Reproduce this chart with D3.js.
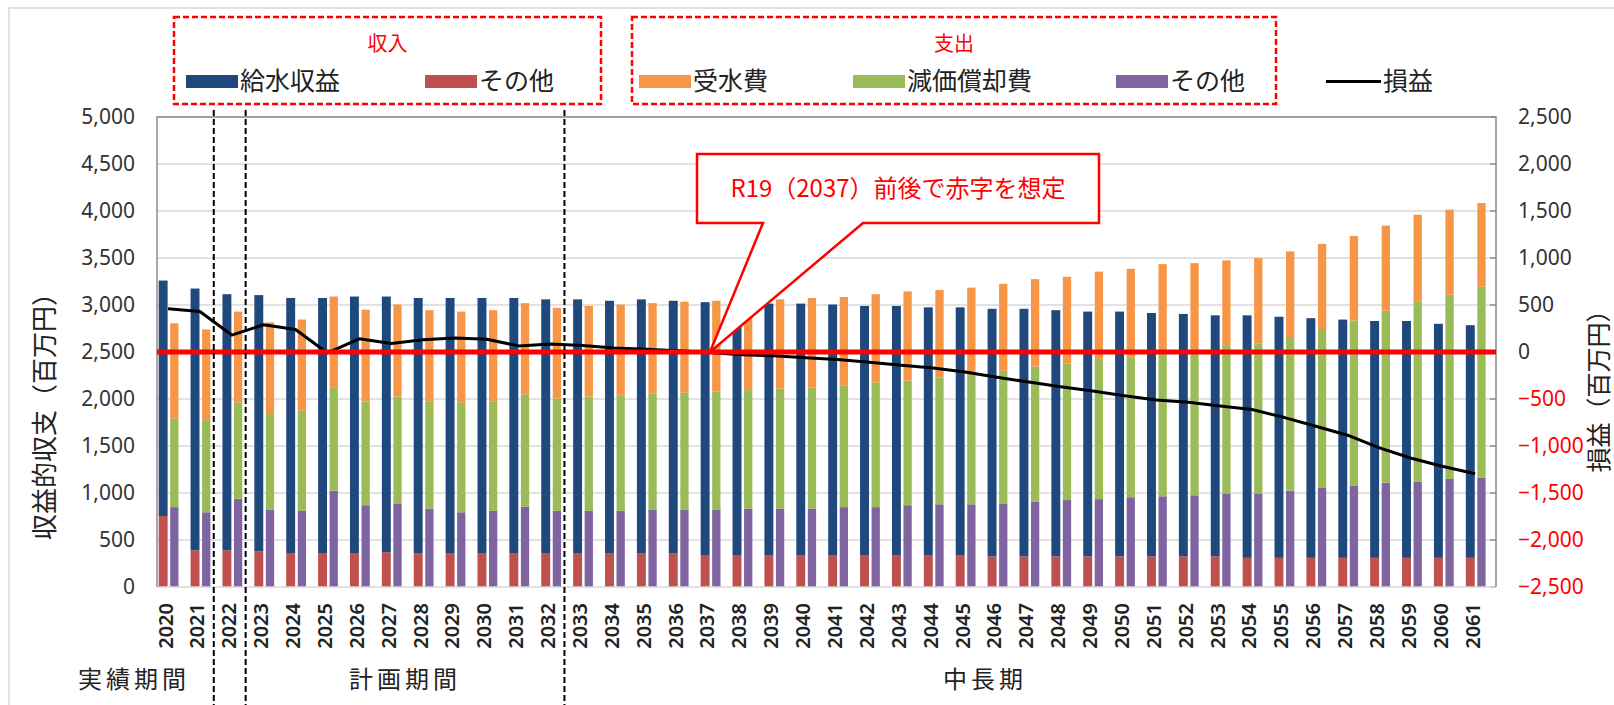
<!DOCTYPE html>
<html>
<head>
<meta charset="utf-8">
<script src="https://cdn.jsdelivr.net/npm/d3@7"></script>
<style>
  body { margin: 0; background: #fff; }
  svg { display: block; }
</style>
</head>
<body>
<svg id="chart"></svg>
<script>
const years = d3.range(2020, 2062).map(String);

// 収入
const kyusuiShueki = [2505, 2785, 2725, 2725, 2720, 2720, 2735, 2720, 2720, 2720, 2720, 2720, 2705, 2705,
  2690, 2705, 2690, 2690, 2675, 2675, 2675, 2665, 2650, 2650, 2635, 2635, 2635, 2635, 2620, 2605,
  2605, 2590, 2580, 2565, 2580, 2565, 2550, 2535, 2520, 2520, 2490, 2475];
const incomeOther = [755, 390, 390, 380, 355, 355, 355, 370, 355, 355, 355, 355, 355, 355,
  355, 355, 355, 340, 340, 340, 340, 340, 340, 340, 340, 340, 325, 325, 325, 325,
  325, 325, 325, 325, 310, 310, 310, 310, 310, 310, 310, 310];

// 支出
const jusuihi = [1010, 965, 965, 965, 970, 965, 975, 980, 975, 965, 975, 970, 965, 965,
  965, 965, 965, 965, 965, 950, 950, 945, 940, 950, 930, 930, 925, 930, 920, 940,
  940, 945, 935, 910, 910, 910, 905, 900, 905, 920, 905, 890];
const genkaShokyaku = [945, 980, 1025, 1030, 1065, 1100, 1105, 1135, 1135, 1170, 1160, 1195, 1195, 1215,
  1230, 1230, 1245, 1255, 1260, 1275, 1290, 1290, 1325, 1325, 1350, 1375, 1410, 1435, 1455, 1480,
  1490, 1525, 1535, 1570, 1595, 1635, 1685, 1755, 1830, 1920, 1960, 2030];
const expenseOther = [850, 795, 940, 820, 810, 1025, 870, 890, 835, 795, 810, 855, 810, 810,
  810, 825, 825, 825, 835, 835, 835, 850, 850, 870, 880, 880, 890, 910, 925, 935,
  955, 965, 975, 995, 995, 1025, 1060, 1080, 1110, 1120, 1150, 1165];

// 損益
const soneki = [460, 430, 180, 290, 240, -10, 140, 90, 130, 150, 135, 65, 85, 70,
  42, 30, 12, -5, -30, -40, -60, -80, -110, -140, -170, -212, -268, -320, -370, -415,
  -465, -510, -535, -575, -612, -695, -790, -885, -1020, -1130, -1218, -1295];

const leftTicks = d3.range(0, 5001, 500);
const rightTicks = d3.range(-2500, 2501, 500);

const W = 1614;
const H = 705;
const plot = { left: 157, right: 1496, top: 117, bottom: 587 };

const colors = {
  kyusui: "#1f497d",
  incOther: "#c0504d",
  jusui: "#f79646",
  genka: "#9bbb59",
  expOther: "#8064a2",
};

const jp = "'Noto Sans CJK JP', 'Noto Sans', sans-serif";
const num = "'Noto Sans', 'Open Sans', sans-serif";

const svg = d3.select("#chart").attr("width", W).attr("height", H);

// outer frame
svg.append("rect")
  .attr("x", 9).attr("y", 8)
  .attr("width", W).attr("height", H)
  .attr("fill", "#fff")
  .attr("stroke", "#d9d9d9")
  .attr("stroke-width", 1.5);

const x = d3.scaleBand().domain(years).range([plot.left, plot.right]).padding(0);
const y = d3.scaleLinear().domain([0, 5000]).range([plot.bottom, plot.top]);
const y2 = d3.scaleLinear().domain([-2500, 2500]).range([plot.bottom, plot.top]);
const bw = x.bandwidth();

// grid
svg.append("g")
  .selectAll("line")
  .data(leftTicks.slice(1))
  .enter()
  .append("line")
  .attr("x1", plot.left).attr("x2", plot.right)
  .attr("y1", (d) => y(d)).attr("y2", (d) => y(d))
  .attr("stroke", "#d9d9d9")
  .attr("stroke-width", 1.5);

// left axis
const yAxis = d3.axisLeft(y).tickValues(leftTicks).tickSize(0).tickPadding(22).tickFormat(d3.format(","));
const gy = svg.append("g").attr("transform", "translate(" + plot.left + ",0)").call(yAxis);
gy.select(".domain").remove();
gy.selectAll("text")
  .style("font-family", num)
  .style("font-size", "21px")
  .attr("fill", "#333");

// right axis
const yAxis2 = d3.axisRight(y2).tickValues(rightTicks).tickSize(0).tickPadding(22).tickFormat(d3.format(","));
const gy2 = svg.append("g").attr("transform", "translate(" + plot.right + ",0)").call(yAxis2);
gy2.select(".domain").remove();
gy2.selectAll("text")
  .style("font-family", num)
  .style("font-size", "21px")
  .attr("fill", (d) => (d < 0 ? "#ff0000" : "#333"));

// inner ticks on right border
svg.append("g")
  .selectAll("line")
  .data(rightTicks)
  .enter()
  .append("line")
  .attr("x1", plot.right - 6).attr("x2", plot.right)
  .attr("y1", (d) => y2(d)).attr("y2", (d) => y2(d))
  .attr("stroke", "#8c8c8c")
  .attr("stroke-width", 1.5);

// stacked bars
const incomeStack = d3.stack().keys(["incOther", "kyusui"])(
  years.map((yr, i) => ({ year: yr, incOther: incomeOther[i], kyusui: kyusuiShueki[i] }))
);
const expenseStack = d3.stack().keys(["expOther", "genka", "jusui"])(
  years.map((yr, i) => ({ year: yr, expOther: expenseOther[i], genka: genkaShokyaku[i], jusui: jusuihi[i] }))
);

const drawStack = (stack, offset, width) => {
  svg.append("g")
    .selectAll("g")
    .data(stack)
    .enter()
    .append("g")
    .attr("fill", (s) => colors[s.key])
    .selectAll("rect")
    .data((s) => s)
    .enter()
    .append("rect")
    .attr("x", (d) => x(d.data.year) + bw * offset)
    .attr("width", bw * width)
    .attr("y", (d) => y(d[1]))
    .attr("height", (d) => y(d[0]) - y(d[1]));
};
drawStack(incomeStack, 0.053, 0.28);
drawStack(expenseStack, 0.414, 0.26);

// plot border
svg.append("line")
  .attr("x1", plot.left).attr("x2", plot.right)
  .attr("y1", plot.bottom).attr("y2", plot.bottom)
  .attr("stroke", "#d9d9d9").attr("stroke-width", 1.5);
svg.append("path")
  .attr("d", "M" + plot.left + "," + plot.bottom + "V" + plot.top + "H" + plot.right + "V" + plot.bottom)
  .attr("fill", "none")
  .attr("stroke", "#8c8c8c")
  .attr("stroke-width", 1.5);

// 損益 line
const line = d3.line()
  .x((d, i) => x(years[i]) + 11)
  .y((d) => y2(d));
svg.append("path")
  .datum(soneki)
  .attr("d", line)
  .attr("fill", "none")
  .attr("stroke", "#000")
  .attr("stroke-width", 3)
  .attr("stroke-linejoin", "round");

// zero line
svg.append("line")
  .attr("x1", plot.left).attr("x2", plot.right)
  .attr("y1", y2(0)).attr("y2", y2(0))
  .attr("stroke", "#ff0000")
  .attr("stroke-width", 5);

// period dividers
const dividers = ["2022", "2023", "2033"];
svg.append("g")
  .selectAll("line")
  .data(dividers)
  .enter()
  .append("line")
  .attr("x1", (d) => x(d) - 7).attr("x2", (d) => x(d) - 7)
  .attr("y1", 110).attr("y2", H)
  .attr("stroke", "#000")
  .attr("stroke-width", 2)
  .attr("stroke-dasharray", "6,3");

// x labels
svg.append("g")
  .selectAll("text")
  .data(years)
  .enter()
  .append("text")
  .attr("transform", (d) => "translate(" + (x(d) + 8) + "," + 603 + ") rotate(-90)")
  .attr("text-anchor", "end")
  .attr("dominant-baseline", "central")
  .style("font-family", num)
  .style("font-size", "20px")
  .style("font-weight", 600)
  .attr("fill", "#222")
  .text((d) => d);

// period labels
const periods = [
  { label: "実績期間", x: 134 },
  { label: "計画期間", x: 405 },
  { label: "中長期", x: 985 },
];
svg.append("g")
  .selectAll("text")
  .data(periods)
  .enter()
  .append("text")
  .attr("x", (d) => d.x)
  .attr("y", 688)
  .attr("text-anchor", "middle")
  .style("font-family", jp)
  .style("font-size", "24px")
  .style("letter-spacing", "4px")
  .attr("fill", "#222")
  .text((d) => d.label);

// axis titles
svg.append("text")
  .attr("transform", "translate(42,410) rotate(-90)")
  .attr("text-anchor", "middle")
  .attr("dominant-baseline", "central")
  .style("font-family", jp)
  .style("font-size", "26px")
  .attr("fill", "#222")
  .text("収益的収支（百万円）");
svg.append("text")
  .attr("transform", "translate(1597,385) rotate(-90)")
  .attr("text-anchor", "middle")
  .attr("dominant-baseline", "central")
  .style("font-family", jp)
  .style("font-size", "25px")
  .attr("fill", "#222")
  .text("損益（百万円）");

// legend groups
const legendBoxes = [
  { title: "収入", x: 174, w: 427 },
  { title: "支出", x: 632, w: 644 },
];
const lg = svg.append("g");
lg.selectAll("rect")
  .data(legendBoxes)
  .enter()
  .append("rect")
  .attr("x", (d) => d.x).attr("y", 17)
  .attr("width", (d) => d.w).attr("height", 87)
  .attr("fill", "#fff")
  .attr("stroke", "#ff0000")
  .attr("stroke-width", 2.5)
  .attr("stroke-dasharray", "6,3");
lg.selectAll("text.title")
  .data(legendBoxes)
  .enter()
  .append("text")
  .attr("class", "title")
  .attr("x", (d) => d.x + d.w / 2)
  .attr("y", 51)
  .attr("text-anchor", "middle")
  .style("font-family", jp)
  .style("font-size", "20px")
  .attr("fill", "#ff0000")
  .text((d) => d.title);

const legendItems = [
  { label: "給水収益", key: "kyusui", x: 186 },
  { label: "その他", key: "incOther", x: 425 },
  { label: "受水費", key: "jusui", x: 639 },
  { label: "減価償却費", key: "genka", x: 853 },
  { label: "その他", key: "expOther", x: 1116 },
];
const li = lg.selectAll("g.item")
  .data(legendItems)
  .enter()
  .append("g")
  .attr("class", "item")
  .attr("transform", (d) => "translate(" + d.x + ",0)");
li.append("rect")
  .attr("x", 0).attr("y", 75)
  .attr("width", 52).attr("height", 13)
  .attr("fill", (d) => colors[d.key]);
li.append("text")
  .attr("x", 54).attr("y", 90)
  .style("font-family", jp)
  .style("font-size", "25px")
  .attr("fill", "#222")
  .text((d) => d.label);

svg.append("line")
  .attr("x1", 1326).attr("x2", 1381)
  .attr("y1", 81.5).attr("y2", 81.5)
  .attr("stroke", "#000").attr("stroke-width", 3);
svg.append("text")
  .attr("x", 1383).attr("y", 90)
  .style("font-family", jp)
  .style("font-size", "25px")
  .attr("fill", "#222")
  .text("損益");

// callout
const tip = { x: 710, y: y2(0) };
const box = { x: 697, y: 154, w: 402, h: 69 };
svg.append("path")
  .attr("d",
    "M" + box.x + "," + box.y +
    "H" + (box.x + box.w) +
    "V" + (box.y + box.h) +
    "H" + 863 +
    "L" + tip.x + "," + tip.y +
    "L" + 763 + "," + (box.y + box.h) +
    "H" + box.x + "Z")
  .attr("fill", "#fff")
  .attr("stroke", "#ff0000")
  .attr("stroke-width", 2.5)
  .attr("stroke-linejoin", "miter");
svg.append("text")
  .attr("x", box.x + box.w / 2)
  .attr("y", 197)
  .attr("text-anchor", "middle")
  .style("font-family", jp)
  .style("font-size", "24px")
  .attr("fill", "#ff0000")
  .text("R19（2037）前後で赤字を想定");
</script>
</body>
</html>
